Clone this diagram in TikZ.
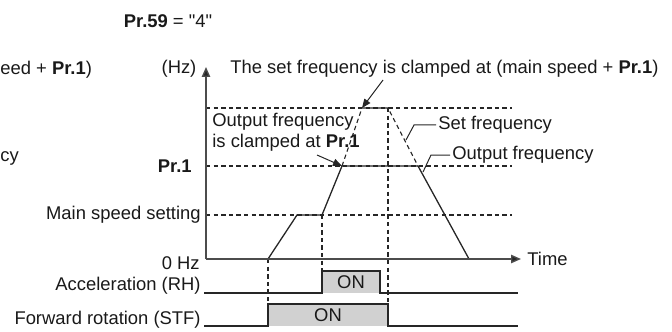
\documentclass[tikz,border=0pt]{standalone}
\usepackage{fontspec}
\setmainfont{Liberation Sans}[Ligatures=TeXOff]
\usetikzlibrary{arrows.meta}
\begin{document}
\begin{tikzpicture}[x=0.5pt,y=-0.5pt,
  every node/.style={font=\fontsize{9.2pt}{10.5pt}\selectfont, inner sep=0pt, text=black!90},
  ln/.style={line width=0.65pt, draw=black!85},
  dsh/.style={line width=0.55pt, draw=black!85, dash pattern=on 2.2pt off 1.6pt},
  ax/.style={line width=0.7pt, draw=black!70, -{Triangle[length=5pt,width=4.2pt,fill=black!85]}},
  callout/.style={line width=0.5pt, draw=black!85, -{Triangle[length=4.5pt,width=3.6pt]}},
  leader/.style={line width=0.5pt, draw=black!85},
  onbox/.style={fill=black!18, draw=none},
  sig/.style={line width=0.65pt, draw=black!85},
]
\useasboundingbox (0,0) rectangle (672,331);

% key points
\coordinate (O) at (206,259);
\coordinate (ytop) at (206,67);
\coordinate (xend) at (521,259);
\coordinate (topL) at (206,108);
\coordinate (topR) at (512,108);
\coordinate (prL) at (206,166);
\coordinate (prR) at (512,166);
\coordinate (msL) at (206,215);
\coordinate (msR) at (512,215);
\coordinate (s0) at (268,259);
\coordinate (s1) at (297,215);
\coordinate (s2) at (322,215);
\coordinate (s3) at (342,166);
\coordinate (s4) at (362,108);
\coordinate (s5) at (388,108);
\coordinate (s6) at (418,166);
\coordinate (s7) at (469,259);

% dashed reference lines
\draw[dsh] (topL) -- (topR);
\draw[dsh] (prL) -- (prR);
\draw[dsh] (msL) -- (msR);

% signal boxes
\fill[onbox] (322,271) rectangle (380,293);
\fill[onbox] (268,304) rectangle (388,326);

% vertical dashed
\draw[dsh] (s0) -- (268,304);
\draw[dsh] (s2) -- (322,271);
\draw[dsh] (s5) -- (388,304);

% set frequency (dashed)
\draw[dsh] (s3) -- (s4) -- (s5) -- (s6);
% output frequency (solid)
\draw[ln] (s0) -- (s1) -- (s2) -- (s3) -- (s6) -- (s7);

% axes
\draw[ax] (O) -- (ytop);
\draw[ax] (O) -- (xend);

% signals
\draw[sig] (204,293) -- (322,293) -- (322,271) -- (380,271) -- (380,293) -- (518,293);
\draw[sig] (204,326) -- (268,326) -- (268,304) -- (388,304) -- (388,326) -- (518,326);

% texts
\node (title) at (168,21) {\textbf{Pr.59} = "4"};
\node[anchor=west] (frag1) at (0,70) {eed + \textbf{Pr.1})};
\node[anchor=west] (frag2) at (0,158) {cy};
\node (hz) at (179,69) {(Hz)};
\node[anchor=west] (settxt) at (230,69) {The set frequency is clamped at (main speed + \textbf{Pr.1})};
\node[anchor=west, align=left] (outtxt) at (212,132.5) {Output frequency\\is clamped at \textbf{Pr.1}};
\node[anchor=west] (setlab) at (438,125) {Set frequency};
\node[anchor=west] (outlab) at (452,155) {Output frequency};
\node[anchor=east] (prlab) at (192,166) {\textbf{Pr.1}};
\node[anchor=east] (mslab) at (201,215) {Main speed setting};
\node[anchor=east] (zhz) at (200,263) {0 Hz};
\node[anchor=east] (rh) at (201,286) {Acceleration (RH)};
\node[anchor=east] (stf) at (201,320) {Forward rotation (STF)};
\node (on1) at (351,282) {ON};
\node (on2) at (328,315) {ON};
\node[anchor=west] (time) at (527,259) {Time};

% callouts
\coordinate (c1) at (383,80);
\coordinate (c2) at (317,155);
\draw[callout] (c1) -- (s4);
\draw[callout] (c2) -- (s3);

% leaders
\coordinate (l1) at (406,140);
\coordinate (l2) at (423,172);
\draw[leader] (setlab.west) ++(-2,0) -- (414,125) -- (l1);
\draw[leader] (outlab.west) ++(-2,0) -- (431,155) -- (l2);
\end{tikzpicture}
\end{document}
